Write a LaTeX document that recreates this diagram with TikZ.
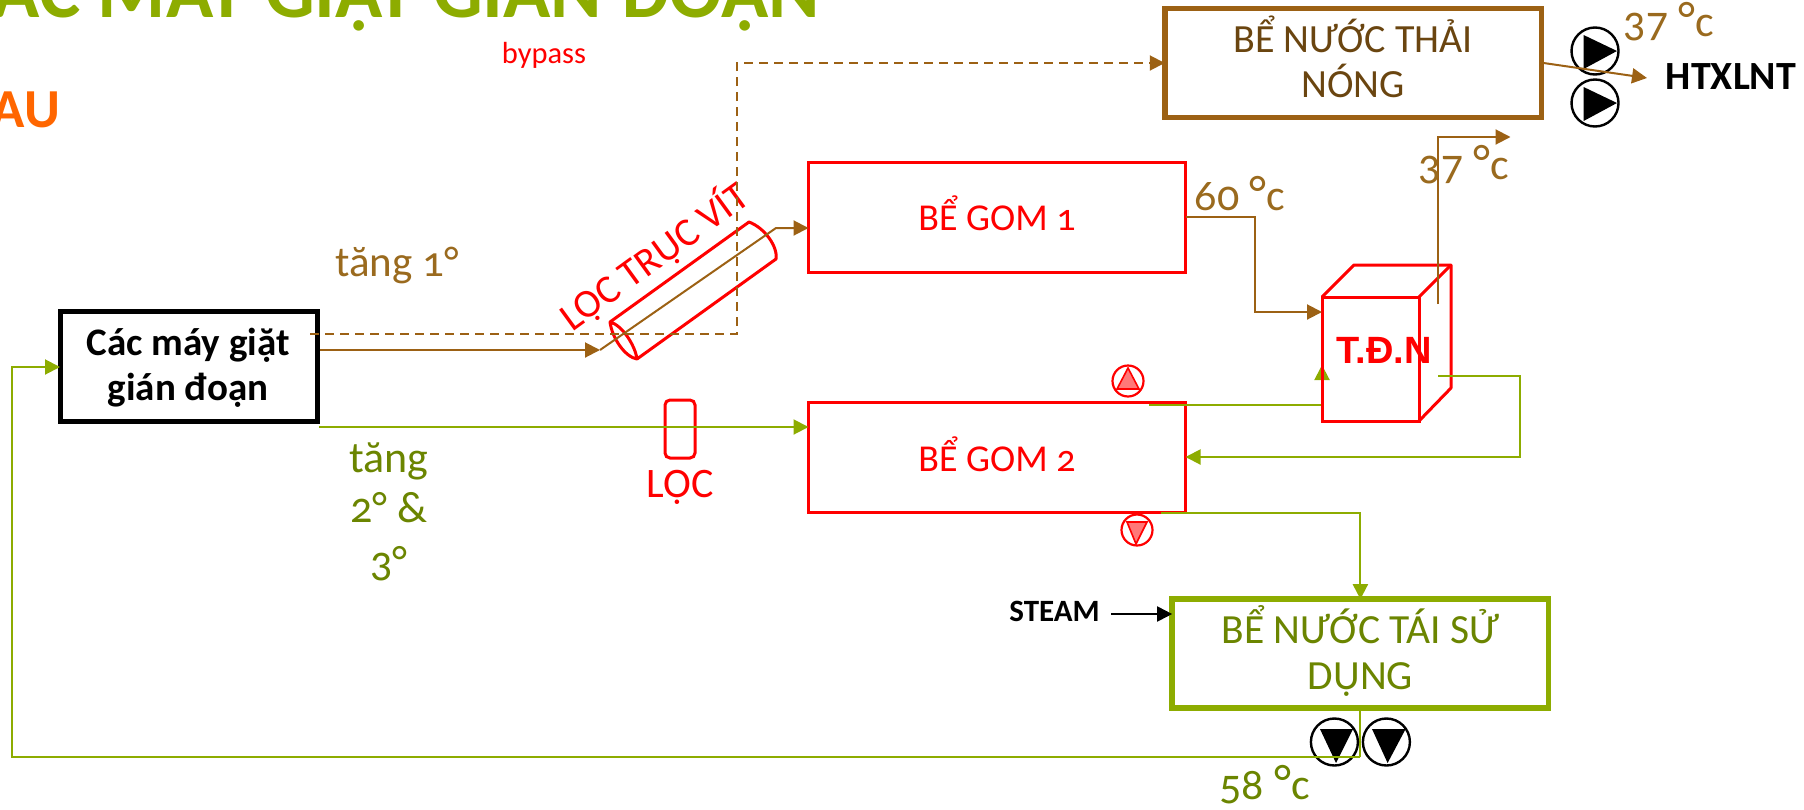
\documentclass[tikz,border=0pt]{standalone}
\usepackage{fontspec}
\setmainfont{Carlito}[Numbers=OldStyle]
\newfontfamily\arialb{Liberation Sans}[Scale=1]
\usetikzlibrary{arrows.meta,calc}
\definecolor{brownline}{HTML}{9C6114}
\definecolor{brownlabel}{HTML}{9A6A1E}
\definecolor{browntext}{HTML}{6A4510}
\definecolor{greenline}{HTML}{8DAC00}
\definecolor{greentext}{HTML}{6B8500}
\definecolor{pink}{HTML}{FF7878}
\definecolor{titleorange}{HTML}{FF6600}
\newcommand{\fs}[1]{\fontsize{#1}{#1}\selectfont}
\newcommand{\dgc}{{\fs{50}°}c}
\tikzset{
  tip/.style={-{Triangle[length=15pt,width=15pt]}},
  brownflow/.style={draw=brownline,line width=2pt,tip},
  greenflow/.style={draw=greenline,line width=2pt,tip},
  redbox/.style={draw=red,line width=3pt,minimum width=377pt,minimum height=110pt,inner sep=0pt,outer sep=0pt},
  thickbox/.style={line width=5.5pt,minimum width=376.5pt,minimum height=109pt,inner sep=0pt,outer sep=0pt},
  blackpump/.style={draw=black,line width=2.4pt,fill=white,circle,minimum size=47pt,inner sep=0pt,outer sep=0pt},
  redpump/.style={draw=red,line width=2.2pt,fill=white,circle,minimum size=31pt,inner sep=0pt,outer sep=0pt},
  lab/.style={anchor=base,inner sep=0pt,outer sep=0pt},
}
\begin{document}
\begin{tikzpicture}[x=1pt,y=-1pt]
\useasboundingbox (0,0) rectangle (1804,809);
\clip (0,0) rectangle (1804,809);
% titles
\node[lab,anchor=base east,text=greenline,font=\fs{78}\bfseries] (title) at (820,17) {ÁC MÁY GIẶT GIÁN ĐOẠN};
\node[lab,anchor=base east,text=titleorange,font=\fs{55}\bfseries] (sub) at (60,127) {AU};
\node[lab,text=red,font=\fs{30.5}] (bypass) at (544,63) {bypass};
% boxes
\node[draw=black,line width=5pt,minimum width=257pt,minimum height=110pt,inner sep=0pt,outer sep=0pt] (machines) at (188.5,366) {};
\node[lab,font=\fs{39}\bfseries] (ml1) at (188,355) {Các máy giặt};
\node[lab,font=\fs{39}\bfseries] (ml2) at (188,400) {gián đoạn};
\node[redbox] (gom1) at (997,217) {};
\node[lab,text=red,font=\fs{38}] (g1l) at (997,230) {BỂ GOM 1};
\node[redbox] (gom2) at (997,457) {};
\node[lab,text=red,font=\fs{38}] (g2l) at (997,471) {BỂ GOM 2};
\node[thickbox,draw=brownline] (hot) at (1353,63) {};
\node[lab,text=browntext,font=\fs{40}] (hl1) at (1353,52) {BỂ NƯỚC THẢI};
\node[lab,text=browntext,font=\fs{40}] (hl2) at (1353,97) {NÓNG};
\node[thickbox,draw=greenline] (reuse) at (1360.4,653.7) {};
\node[lab,text=greentext,font=\fs{41.5}] (rl1) at (1360.5,643) {BỂ NƯỚC TÁI SỬ};
\node[lab,text=greentext,font=\fs{41.5}] (rl2) at (1360.5,689) {DỤNG};
% coordinates
\coordinate (m1) at (600,350);
\coordinate (m2) at (776,228);
\coordinate (d0) at (310,334);
\coordinate (d1) at (737,334);
\coordinate (s0) at (320,350);
\coordinate (g0) at (319,427);
\coordinate (h1) at (1254.7,217);
\coordinate (o0) at (1438,304);
\coordinate (o1) at (1438,137);
\coordinate (o2) at (1510.5,137);
\coordinate (r0) at (1438,376);
\coordinate (r1) at (1520,376);
\coordinate (c0) at (1149,405);
\coordinate (c1) at (1322,405);
\coordinate (c2) at (1322,365);
\coordinate (e0) at (1161,513);
\coordinate (b0) at (1360.4,757);
\coordinate (b1) at (12,757);
\coordinate (st0) at (1111,614);
\coordinate (ht0) at (1543.6,63);
\coordinate (ht1) at (1647,78);
% flow that enters the exchanger from below its outline
\draw[greenflow] (c0) -- (c1) -- (c2);
% heat exchanger
\node[draw=red,line width=3pt,minimum width=97pt,minimum height=124pt,inner sep=0pt,outer sep=0pt] (hx) at (1370.5,359) {};
\draw[red,line width=3pt,line join=round] (hx.north west) -- ++(32,-32) -- ++(97,0) -- ++(0,123) -- (hx.south east);
\draw[red,line width=3pt] (hx.north east) -- ++(32,-32);
\node[lab,text=red,font=\arialb\fs{38}\bfseries] (hxlabel) at (1384,363) {T.Đ.N};
% screw filter
\coordinate (fa) at (610,322); \coordinate (fb) at (637,359);
\coordinate (fc) at (749,222); \coordinate (fd) at (776,259);
\draw[red,line width=3pt,line join=round] (fa) .. controls (612,338) and (625,357) .. (fb) .. controls (635,345) and (622,325) .. (fa) -- (fc) .. controls (765,228) and (778,247) .. (fd) -- (fb);
\node[lab,text=red,rotate=36,font=\fs{40}] (screw) at (662,267) {LỌC TRỤC VÍT};
% small filter
\node[draw=red,line width=3pt,rounded corners=5pt,minimum width=30pt,minimum height=58pt,inner sep=0pt,outer sep=0pt] (filter) at (680,429) {};
\node[lab,text=red,font=\fs{42}] (filterlabel) at (680,497) {LỌC};
% connectors
\draw[brownflow,dashed,dash pattern=on 9pt off 6pt] (d0) -- (d1) -- (d1 |- hot.west) -- (hot.west);
\draw[brownflow] (s0) -- (m1);
\draw[brownflow] (m1) -- (m2) -- (m2 -| gom1.west);
\draw[greenflow] (g0) -- (g0 -| gom2.west);
\draw[brownflow] (gom1.east) -- (h1) -- (h1 |- 0,312) -- (hx.west |- 0,312);
\draw[brownflow] (o0) -- (o1) -- (o2);
\draw[greenflow] (r0) -- (r1) -- (r1 |- gom2.east) -- (gom2.east);
\draw[greenflow] (e0) -- (e0 -| reuse.north) -- (reuse.north);
\draw[draw=black,line width=2pt,tip] (st0) -- (st0 -| reuse.west);
% pumps
\node[redpump] (rp1) at (1128,381) {};
\draw[red,line width=1.6pt,fill=pink] (1117,389) -- (1128,368) -- (1139,389) -- cycle;
\node[redpump] (rp2) at (1137,530) {};
\draw[red,line width=1.6pt,fill=pink] (1127,522) -- (1147,522) -- (1136,544) -- cycle;
\node[blackpump] (bp1) at (1595,51) {};
\fill (1583.6,35) -- (1617,51) -- (1583.6,69) -- cycle;
\node[blackpump] (bp2) at (1595,103) {};
\fill (1583.6,87) -- (1617,103) -- (1583.6,121) -- cycle;
\draw[brownflow] (ht0) -- (ht1);
\draw[draw=greenline,line width=2pt] (reuse.south) -- (b0);
\node[blackpump,fill=none] (bp3) at (1334.4,742) {};
\fill (1320,729) -- (1353,729) -- (1336,763) -- cycle;
\node[blackpump,fill=none] (bp4) at (1386.4,742) {};
\fill (1372,729) -- (1405.6,729) -- (1387.6,763) -- cycle;
\draw[greenflow] (b0) -- (b1) -- (b1 |- 0,367) -- (machines.west |- 0,367);
% labels
\node[lab,font=\fs{40}\bfseries] (htx) at (1731,89) {HTXLNT};
\node[lab,font=\fs{31}\bfseries] (steam) at (1054.6,621) {STEAM};
\node[lab,text=brownlabel,font=\fs{44}] (t1) at (1669,36) {37 \dgc};
\node[lab,text=brownlabel,font=\fs{44}] (t2) at (1464,179) {37 \dgc};
\node[lab,text=brownlabel,font=\fs{44}] (t3) at (1240,210) {60 \dgc};
\node[lab,text=greentext,font=\fs{44}] (t4) at (1264.7,799) {58 \dgc};
\node[lab,text=brownlabel,font=\fs{43}] (t5) at (397,276) {tăng 1°};
\node[lab,text=greentext,font=\fs{44}] (t6a) at (389,472) {tăng};
\node[lab,text=greentext,font=\fs{44}] (t6b) at (389,522) {2° \&};
\node[lab,text=greentext,font=\fs{44}] (t6c) at (389,576) {3°};
\end{tikzpicture}
\end{document}
